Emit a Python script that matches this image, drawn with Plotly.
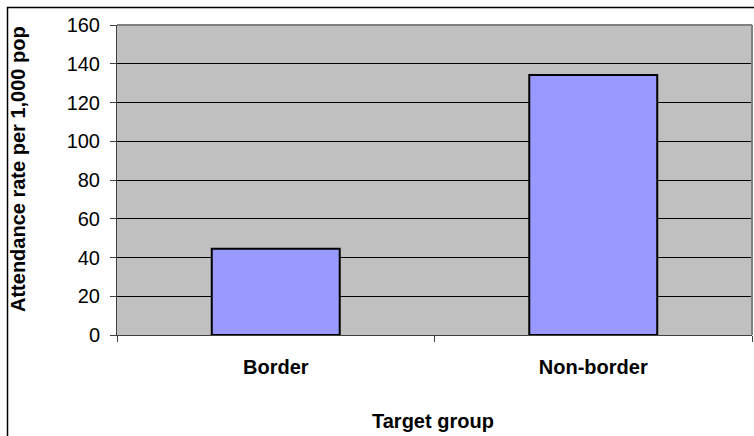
import plotly.graph_objects as go

categories = ["Border", "Non-border"]
values = [44.5, 134.2]
y_ticks = [0, 20, 40, 60, 80, 100, 120, 140, 160]

W, H = 754, 436
L, R, T, B = 117, 2, 25, 101
pw, ph = W - L - R, H - T - B

fig = go.Figure(go.Bar(
    x=categories, y=values, width=0.403,
    marker=dict(color="#9999FF", line=dict(color="black", width=2)),
))

font = "Liberation Sans, Arial, sans-serif"
fig.update_layout(
    width=W, height=H,
    margin=dict(l=L, r=R, t=T, b=B),
    paper_bgcolor="white", plot_bgcolor="#C0C0C0",
    showlegend=False,
    font=dict(family=font, size=20, color="black"),
    xaxis=dict(
        type="category", tickson="boundaries", ticks="outside", ticklen=6,
        tickcolor="#404040", showline=True, linecolor="#404040", linewidth=1,
        showgrid=False, tickfont=dict(family=font, size=20, color="black", weight="bold"),
        ticklabelstandoff=14,
        range=[-0.5, 1.5],
    ),
    yaxis=dict(
        range=[0, 160], tickvals=y_ticks, ticks="outside", ticklen=6,
        tickcolor="#404040", showline=True, linecolor="#404040", linewidth=1,
        showgrid=True, gridcolor="black", gridwidth=1, zeroline=False,
        tickfont=dict(family=font, size=20, color="black"),
        ticklabelstandoff=6,
    ),
    annotations=[
        dict(text="<b>Target group</b>", xref="paper", yref="paper",
             x=(433 - L) / pw, y=(335 - 421) / ph, xanchor="center", yanchor="middle",
             showarrow=False, font=dict(family=font, size=20, color="black")),
        dict(text="<b>Attendance rate per 1,000 pop</b>", xref="paper", yref="paper",
             x=(18 - L) / pw, y=(335 - 169) / ph, xanchor="center", yanchor="middle",
             textangle=-90, showarrow=False, font=dict(family=font, size=20, color="black")),
    ],
    shapes=[
        dict(type="line", xref="paper", yref="paper", x0=0, x1=1, y0=1, y1=1,
             line=dict(color="#808080", width=2)),
        dict(type="line", xref="paper", yref="paper", x0=1, x1=1, y0=0, y1=1,
             line=dict(color="#808080", width=2)),
        dict(type="rect", xref="paper", yref="paper",
             x0=(7.5 - L) / pw, x1=(W + 10 - L) / pw,
             y0=-(H + 10 - T - ph) / ph, y1=(H - 7.5 - B) / ph,
             line=dict(color="black", width=1.5), layer="below"),
    ],
)

fig.write_html("out.html")
